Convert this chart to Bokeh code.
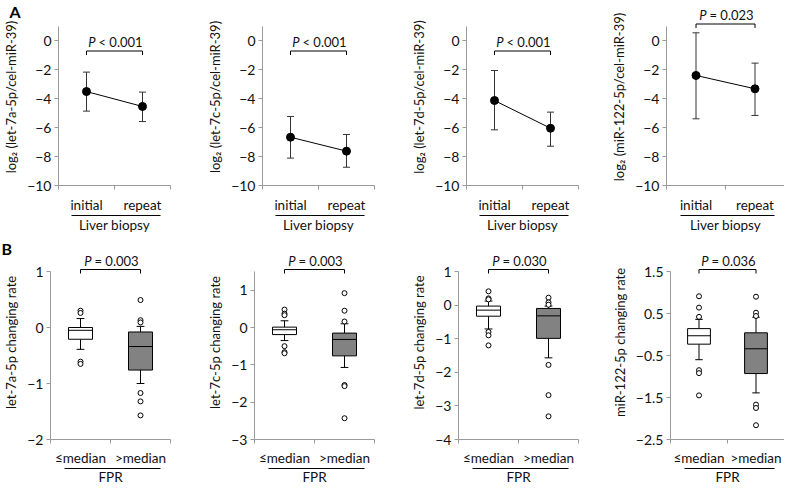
from bokeh.plotting import figure
from bokeh.models import FixedTicker, LinearAxis, Range1d, Whisker, TeeHead, ColumnDataSource
from bokeh.layouts import row, column
from bokeh.embed import file_html
from bokeh.resources import INLINE
from bokeh.core.properties import value

FONT = "Lato"

# ---------------- Panel A data (mean with error bars) ----------------
a_ylabels = ["log₂ (let-7a-5p/cel-miR-39)", "log₂ (let-7c-5p/cel-miR-39)",
             "log₂ (let-7d-5p/cel-miR-39)", "log₂ (miR-122-5p/cel-miR-39)"]
a_categories = ["initial", "repeat"]
a_group = "Liver biopsy"
a_init_mean = [-3.52, -6.67, -4.14, -2.41]
a_init_upper = [-2.18, -5.24, -2.07, 0.53]
a_init_lower = [-4.87, -8.11, -6.16, -5.40]
a_rep_mean = [-4.55, -7.63, -6.05, -3.33]
a_rep_upper = [-3.56, -6.48, -4.94, -1.56]
a_rep_lower = [-5.59, -8.74, -7.29, -5.17]
a_pvals = ["< 0.001", "< 0.001", "< 0.001", "= 0.023"]
a_yticks = [-10, -8, -6, -4, -2, 0]
a_ylim = (-10, 1)

# ---------------- Panel B data (box plots) ----------------
b_ylabels = ["let-7a-5p changing rate", "let-7c-5p changing rate",
             "let-7d-5p changing rate", "miR-122-5p changing rate"]
b_categories = ["≤median", ">median"]
b_group = "FPR"
b_q1 = [[-0.21, -0.76], [-0.19, -0.76], [-0.33, -0.99], [-0.23, -0.93]]
b_median = [[-0.05, -0.34], [-0.06, -0.32], [-0.15, -0.32], [-0.03, -0.34]]
b_q3 = [[0.0, -0.08], [0.01, -0.15], [-0.03, -0.10], [0.14, 0.04]]
b_wlo = [[-0.39, -1.0], [-0.35, -1.07], [-0.71, -1.57], [-0.60, -1.39]]
b_whi = [[0.16, 0.02], [0.18, 0.10], [0.12, -0.03], [0.36, 0.41]]
b_out_low_group = [[0.30, 0.26, -0.61, -0.65],
                   [0.48, 0.37, 0.33, -0.50, -0.66, -0.69],
                   [0.41, 0.20, 0.17, -0.80, -0.90, -1.20],
                   [0.91, 0.64, 0.42, -0.85, -0.92, -1.45]]
b_out_high_group = [[0.49, 0.13, 0.09, -1.17, -1.32, -1.57],
                    [0.92, 0.45, 0.16, -1.54, -1.57, -2.43],
                    [0.22, 0.08, 0.01, -1.78, -2.68, -3.31],
                    [0.90, 0.52, 0.44, -1.67, -1.75, -2.16]]
b_pvals = ["= 0.003", "= 0.003", "= 0.030", "= 0.036"]
b_yticks = [[-2, -1, 0, 1], [-3, -2, -1, 0, 1], [-4, -3, -2, -1, 0, 1],
            [-2.5, -1.5, -0.5, 0.5, 1.5]]
b_ylim = [(-2, 1), (-3, 1.5), (-4, 1), (-2.5, 1.5)]
b_fill = ["white", "#828282"]

# ---------------- layout constants ----------------
FIG_W = [204, 204, 200, 176]
BORDER_R = [34, 34, 30, 0]
BORDER_L = 49
AXIS_COLOR = "#9a9a9a"
TXT = "#111111"
TOP = 8


def base_fig(i, lo, hi, ticks, fig_h, bot, axis_h, ylab, cats, group, letter, s1, s2):
    frame_h = fig_h - TOP - bot
    scale = axis_h / (hi - lo)
    y_end = hi + (frame_h - axis_h) / scale
    p = figure(width=FIG_W[i], height=fig_h, x_range=Range1d(0, 2), y_range=Range1d(lo, y_end),
               output_backend="svg", toolbar_location=None,
               min_border_left=BORDER_L, min_border_right=BORDER_R[i],
               min_border_top=TOP, min_border_bottom=bot)
    if letter:
        p.title.text = letter
        p.title.text_font = FONT
        p.title.text_font_size = "16px"
        p.title.text_font_style = "bold"
        p.title.text_color = "black"
        p.title.standoff = -24
        p.title.vertical_align = "bottom"
        p.title.align = "left"
        p.title.offset = -BORDER_L
    p.grid.visible = False
    p.outline_line_color = None
    p.background_fill_color = "white"
    p.border_fill_color = "white"

    ya = p.yaxis[0]
    ya.ticker = FixedTicker(ticks=ticks, minor_ticks=[])
    ya.bounds = (lo, hi)
    ya.axis_line_color = AXIS_COLOR
    ya.major_tick_line_color = AXIS_COLOR
    ya.major_tick_out = 4
    ya.major_tick_in = 0
    ya.minor_tick_out = 0
    ya.minor_tick_in = 0
    ya.major_label_standoff = 3
    ya.major_label_text_font = FONT
    ya.major_label_text_font_size = "14px"
    ya.major_label_text_color = TXT
    ya.axis_label = ylab
    ya.axis_label_text_font = FONT
    ya.axis_label_text_font_size = "13px"
    ya.axis_label_text_font_style = "normal"
    ya.axis_label_text_color = TXT
    ya.axis_label_standoff = 5

    xa = p.xaxis[0]
    xa.ticker = FixedTicker(ticks=[0.5, 1.5], minor_ticks=[0, 1, 2])
    xa.major_label_overrides = {0.5: cats[0], 1.5: cats[1]}
    xa.axis_line_color = AXIS_COLOR
    xa.major_tick_out = 0
    xa.major_tick_in = 0
    xa.minor_tick_out = 4
    xa.minor_tick_in = 0
    xa.minor_tick_line_color = AXIS_COLOR
    xa.major_label_standoff = s1
    xa.major_label_text_font = FONT
    xa.major_label_text_font_size = "13.5px"
    xa.major_label_text_color = TXT

    ax2 = LinearAxis(ticker=FixedTicker(ticks=[1.0], minor_ticks=[]), bounds=(0.24, 1.83),
                     major_label_overrides={1.0: group}, major_label_standoff=s2,
                     major_tick_out=0, major_tick_in=0, minor_tick_out=0, minor_tick_in=0,
                     axis_line_color="black", major_label_text_font=FONT,
                     major_label_text_font_size="13.5px", major_label_text_color=TXT)
    p.add_layout(ax2, "below")
    return p, scale


def bracket(p, scale, by, ptxt):
    d = 4 / scale
    p.line(x=[0.5, 0.5, 1.5, 1.5], y=[by - d, by, by, by - d], line_color="black", line_width=1)
    p.text(x=[1.0], y=[by], text=["P"], text_font=value(FONT), text_font_style="italic",
           text_font_size="13px", text_align="right", text_baseline="middle",
           x_offset=-19, y_offset=-9, text_color=TXT)
    p.text(x=[1.0], y=[by], text=[ptxt], text_font=value(FONT), text_font_size="13px",
           text_align="left", text_baseline="middle", x_offset=-16, y_offset=-9, text_color=TXT)


# ---------------- Row A ----------------
A_FIG_H, A_BOT, A_AXIS_H = 237, 52, 159.5
a_bracket_px = [25, 25, 25, -2]  # distance of bracket below top of axis
row_a = []
for i in range(4):
    lo, hi = a_ylim
    p, scale = base_fig(i, lo, hi, a_yticks, A_FIG_H, A_BOT, A_AXIS_H,
                        a_ylabels[i], a_categories, a_group, "A" if i == 0 else None, 7, 1)
    xs = [0.5, 1.5]
    means = [a_init_mean[i], a_rep_mean[i]]
    src = ColumnDataSource(dict(x=xs, m=means,
                                up=[a_init_upper[i], a_rep_upper[i]],
                                lo=[a_init_lower[i], a_rep_lower[i]]))
    p.line(x="x", y="m", source=src, line_color="black", line_width=1)
    w = Whisker(source=src, base="x", upper="up", lower="lo", dimension="height",
                line_color="#333333", line_width=1,
                upper_head=TeeHead(size=7, line_color="#333333", line_width=1),
                lower_head=TeeHead(size=7, line_color="#333333", line_width=1))
    p.add_layout(w)
    p.scatter(x="x", y="m", source=src, size=8, color="black")
    bracket(p, scale, hi - a_bracket_px[i] / scale, a_pvals[i])
    row_a.append(p)

# ---------------- Row B ----------------
B_FIG_H, B_BOT, B_AXIS_H = 252, 50, 168
row_b = []
for i in range(4):
    lo, hi = b_ylim[i]
    p, scale = base_fig(i, lo, hi, b_yticks[i], B_FIG_H, B_BOT, B_AXIS_H,
                        b_ylabels[i], b_categories, b_group, "B" if i == 0 else None, 6, 0)
    xs = [0.5, 1.5]
    src = ColumnDataSource(dict(x=xs, q1=b_q1[i], q3=b_q3[i], med=b_median[i],
                                wlo=b_wlo[i], whi=b_whi[i], fill=b_fill,
                                cl=[x - 0.065 for x in xs], cr=[x + 0.065 for x in xs],
                                ml=[x - 0.2 for x in xs], mr=[x + 0.2 for x in xs]))
    p.segment(x0="x", y0="q3", x1="x", y1="whi", source=src, line_color="black", line_width=1)
    p.segment(x0="x", y0="q1", x1="x", y1="wlo", source=src, line_color="black", line_width=1)
    p.segment(x0="cl", y0="whi", x1="cr", y1="whi", source=src, line_color="black", line_width=1)
    p.segment(x0="cl", y0="wlo", x1="cr", y1="wlo", source=src, line_color="black", line_width=1)
    p.vbar(x="x", width=0.4, top="q3", bottom="q1", fill_color="fill", line_color="black",
           line_width=1, source=src)
    p.segment(x0="ml", y0="med", x1="mr", y1="med", source=src, line_color="black", line_width=1)
    ox = [0.5] * len(b_out_low_group[i]) + [1.5] * len(b_out_high_group[i])
    oy = b_out_low_group[i] + b_out_high_group[i]
    p.scatter(x=ox, y=oy, marker="circle", size=5, fill_color="white", line_color="black",
              line_width=1)
    bracket(p, scale, hi + 2 / scale, b_pvals[i])
    row_b.append(p)

layout = column(row(*row_a), row(*row_b))
open("out.html", "w").write(file_html(layout, INLINE))
